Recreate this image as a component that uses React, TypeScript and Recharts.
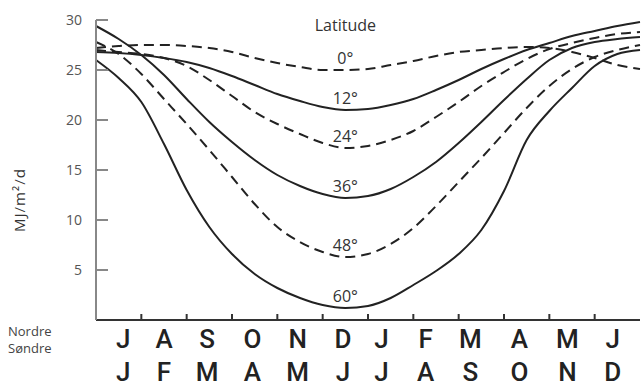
import { LineChart, Line, XAxis, YAxis, ReferenceDot } from 'recharts';

// half-month steps: 0 = left edge, k + 0.5 = middle of month k, 12 = right edge
const monthPos = [
  0, 0.5, 1, 1.5, 2, 2.5, 3, 3.5, 4, 4.5, 5, 5.5, 6, 6.5, 7, 7.5, 8, 8.5, 9, 9.5, 10, 10.5, 11, 11.5, 12,
];

const northMonths = ['J', 'A', 'S', 'O', 'N', 'D', 'J', 'F', 'M', 'A', 'M', 'J'];
const southMonths = ['J', 'F', 'M', 'A', 'M', 'J', 'J', 'A', 'S', 'O', 'N', 'D'];
// where the month letters stand on the axis
const labelPos = [0.6, 1.5, 2.45, 3.45, 4.45, 5.45, 6.3, 7.27, 8.26, 9.34, 10.4, 11.4];
const boundaryTicks = [1, 2, 3, 4, 5, 6, 7, 8, 9, 10, 11];

const leftTicks = [5, 10, 15, 20, 25, 30];
const rightTicks = [2.5, 5, 7.5, 10, 12.5, 15, 17.5, 20, 22.5, 25, 27.5, 30];

// MJ/m²/d per latitude
const lat0 = [
  27.2, 27.4, 27.5, 27.5, 27.4, 27.2, 26.8, 26.2, 25.7, 25.3, 25.0, 25.0, 25.1, 25.5, 25.9, 26.4, 26.8, 27.0,
  27.2, 27.3, 27.2, 26.8, 26.2, 25.5, 25.1,
];
const lat12 = [
  26.8, 26.7, 26.5, 26.2, 25.8, 25.2, 24.4, 23.5, 22.6, 21.9, 21.3, 21.0, 21.1, 21.5, 22.1, 23.0, 24.0, 25.1,
  26.1, 27.0, 27.7, 28.4, 28.9, 29.4, 29.8,
];
const lat24 = [
  27.0, 26.8, 26.6, 26.2, 25.4, 24.0, 22.4, 20.8, 19.6, 18.6, 17.7, 17.2, 17.4, 18.0, 18.9, 20.3, 21.8, 23.4,
  24.8, 26.1, 27.1, 27.7, 28.2, 28.6, 28.8,
];
const lat36 = [
  29.4, 28.1, 26.5, 24.5, 22.1, 19.8, 17.8, 16.0, 14.5, 13.4, 12.6, 12.2, 12.4, 13.1, 14.3, 15.8, 17.7, 19.8,
  22.0, 24.1, 26.0, 27.2, 27.8, 28.1, 28.3,
];
const lat48 = [
  27.8, 26.6, 24.6, 22.1, 19.6, 17.0, 14.3, 11.6, 9.3, 7.8, 6.8, 6.3, 6.6, 7.6, 9.2, 11.4, 13.8, 16.2, 18.7,
  21.2, 23.4, 25.1, 26.3, 27.0, 27.5,
];
const lat60 = [
  26.0, 24.2, 21.8, 17.6, 13.0, 9.3, 6.6, 4.6, 3.2, 2.2, 1.5, 1.2, 1.4, 2.2, 3.5, 4.9, 6.6, 9.0, 12.9, 18.0,
  20.9, 23.2, 25.4, 26.6, 27.0,
];

const series = [
  { key: 'lat0', label: '0°', dashed: true, values: lat0 },
  { key: 'lat12', label: '12°', dashed: false, values: lat12 },
  { key: 'lat24', label: '24°', dashed: true, values: lat24 },
  { key: 'lat36', label: '36°', dashed: false, values: lat36 },
  { key: 'lat48', label: '48°', dashed: true, values: lat48 },
  { key: 'lat60', label: '60°', dashed: false, values: lat60 },
];

const data = monthPos.map((t, i) => {
  const row: Record<string, number> = { t };
  series.forEach((s) => {
    row[s.key] = s.values[i];
  });
  return row;
});

const xTicks = [...boundaryTicks, ...labelPos].sort((a, b) => a - b);
const DEC = 11; // index of mid-December, where the latitude labels sit

const FONT = 'Roboto, "Open Sans", sans-serif';

function MonthTick({ x, y, payload }: any) {
  const v = payload.value as number;
  const i = labelPos.indexOf(v);
  if (i < 0) {
    return <line x1={x} y1={y} x2={x} y2={y - 6} stroke="#333" strokeWidth={2} />;
  }
  const style = { fontSize: 26, fontWeight: 500, fill: '#222', fontFamily: FONT };
  return (
    <g>
      <text x={x} y={y + 28} textAnchor="middle" {...style}>
        {northMonths[i]}
      </text>
      <text x={x} y={y + 61} textAnchor="middle" {...style}>
        {southMonths[i]}
      </text>
    </g>
  );
}

function LeftTick({ x, y, payload }: any) {
  return (
    <g>
      <line x1={x} y1={y} x2={x + 12} y2={y} stroke="#888" strokeWidth={2} />
      <text x={x - 14} y={y} dy={5} textAnchor="end" fontSize={14} fill="#555" fontFamily='"Open Sans", sans-serif'>
        {payload.value}
      </text>
    </g>
  );
}

function RightTick({ x, y }: any) {
  return <line x1={x + 3} y1={y} x2={x - 12} y2={y} stroke="#888" strokeWidth={2} />;
}

export default function App() {
  return (
    <div
      style={{
        position: 'absolute',
        left: 0,
        top: 0,
        width: 643,
        height: 387,
        background: '#fff',
        fontFamily: '"Open Sans", sans-serif',
      }}
    >
      <LineChart width={643} height={387} data={data} margin={{ top: 20, right: 0, bottom: 0, left: 0 }}>
        <XAxis
          dataKey="t"
          type="number"
          domain={[0, 12]}
          ticks={xTicks}
          interval={0}
          height={67}
          tickSize={0}
          tickMargin={0}
          tickLine={false}
          tick={<MonthTick />}
          axisLine={{ stroke: '#333', strokeWidth: 2 }}
        />
        <YAxis
          yAxisId="left"
          domain={[0, 30]}
          ticks={leftTicks}
          width={96}
          tickSize={0}
          tickMargin={0}
          tickLine={false}
          tick={<LeftTick />}
          axisLine={{ stroke: '#888', strokeWidth: 2 }}
        />
        <YAxis
          yAxisId="right"
          orientation="right"
          domain={[0, 30]}
          ticks={rightTicks}
          width={3}
          tickSize={0}
          tickMargin={0}
          tickLine={false}
          tick={<RightTick />}
          axisLine={false}
        />
        {series.map((s) => (
          <Line
            key={s.key}
            yAxisId="left"
            dataKey={s.key}
            type="monotone"
            stroke="#222"
            strokeWidth={2}
            strokeDasharray={s.dashed ? '10 6' : undefined}
            dot={false}
            activeDot={false}
            isAnimationActive={false}
          />
        ))}
        <ReferenceDot
          yAxisId="left"
          x={monthPos[DEC]}
          y={29.5}
          r={0}
          fill="none"
          stroke="none"
          ifOverflow="visible"
          label={{ value: 'Latitude', position: 'center', fontSize: 16, fill: '#333' }}
        />
        {series.map((s) => (
          <ReferenceDot
            key={`lbl-${s.key}`}
            yAxisId="left"
            x={monthPos[DEC]}
            y={s.values[DEC]}
            r={0}
            fill="none"
            stroke="none"
            ifOverflow="visible"
            label={{ value: s.label, position: 'top', offset: 6, fontSize: 16, fill: '#333' }}
          />
        ))}
      </LineChart>
      <div
        style={{
          position: 'absolute',
          left: 19,
          top: 200,
          transform: 'translate(-50%, -50%) rotate(-90deg)',
          fontSize: 15,
          letterSpacing: 1,
          whiteSpace: 'nowrap',
          color: '#333',
        }}
      >
        MJ/m²/d
      </div>
      <div
        style={{
          position: 'absolute',
          left: 8,
          top: 323,
          fontSize: 13,
          lineHeight: '17px',
          color: '#444',
        }}
      >
        <div>Nordre</div>
        <div>Søndre</div>
      </div>
    </div>
  );
}
